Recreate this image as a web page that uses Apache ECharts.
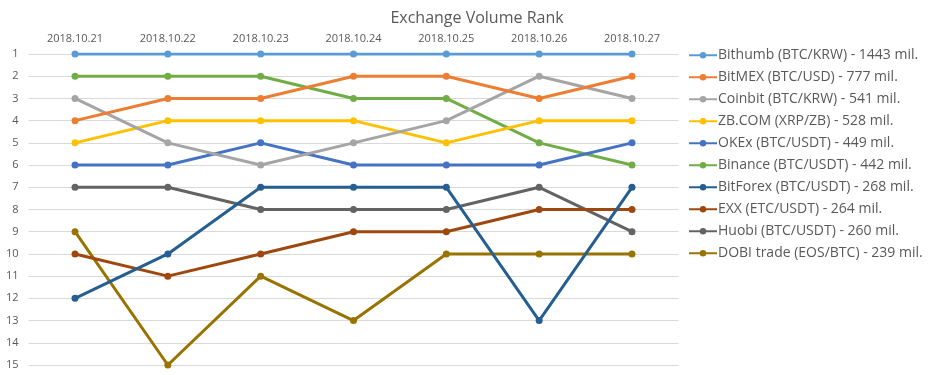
<!DOCTYPE html>
<html><head><meta charset="utf-8">
<script src="https://cdn.jsdelivr.net/npm/echarts@6/dist/echarts.min.js"></script>
<style>html,body{margin:0;padding:0;background:#fff}#c{width:935px;height:375px}</style>
</head><body><div id="c"></div>
<script>
const categories = ['2018.10.21','2018.10.22','2018.10.23','2018.10.24','2018.10.25','2018.10.26','2018.10.27'];
const seriesNames = [
  'Bithumb (BTC/KRW) - 1443 mil.',
  'BitMEX (BTC/USD) - 777 mil.',
  'Coinbit (BTC/KRW) - 541 mil.',
  'ZB.COM (XRP/ZB) - 528 mil.',
  'OKEx (BTC/USDT) - 449 mil.',
  'Binance (BTC/USDT) - 442 mil.',
  'BitForex (BTC/USDT) - 268 mil.',
  'EXX (ETC/USDT) - 264 mil.',
  'Huobi (BTC/USDT) - 260 mil.',
  'DOBI trade (EOS/BTC) - 239 mil.'
];
const bithumb  = [1,1,1,1,1,1,1];
const bitmex   = [4,3,3,2,2,3,2];
const coinbit  = [3,5,6,5,4,2,3];
const zbcom    = [5,4,4,4,5,4,4];
const okex     = [6,6,5,6,6,6,5];
const binance  = [2,2,2,3,3,5,6];
const bitforex = [12,10,7,7,7,13,7];
const exx      = [10,11,10,9,9,8,8];
const huobi    = [7,7,8,8,8,7,9];
const dobi     = [9,15,11,13,10,10,10];
const seriesValues = [bithumb,bitmex,coinbit,zbcom,okex,binance,bitforex,exx,huobi,dobi];
const colors = ['#5B9BD5','#ED7D31','#A5A5A5','#FFC000','#4472C4','#70AD47','#255E91','#9E480E','#636363','#997300'];

const chart = echarts.init(document.getElementById('c'));
chart.setOption({
  animation: false,
  color: colors,
  textStyle: {fontFamily: 'Open Sans, sans-serif'},
  title: {
    text: 'Exchange Volume Rank', left: 472, top: 5, textAlign: 'center',
    textStyle: {fontSize: 16, fontWeight: 'normal', color: '#595959', fontFamily: 'Open Sans, sans-serif'}
  },
  legend: {
    orient: 'vertical', left: 688, top: 48, padding: 0, itemWidth: 28, itemHeight: 8, itemGap: 7.5,
    data: seriesNames,
    textStyle: {fontSize: 14, lineHeight: 14.5, color: '#595959', padding: [0,0,0,-4]}
  },
  grid: {left: 28.6, right: 935-678.4, top: 54, bottom: 375-365},
  xAxis: {
    type: 'category', data: categories, position: 'top', boundaryGap: true,
    axisLine: {show: false}, axisTick: {show: false},
    axisLabel: {fontSize: 11, color: '#595959', margin: 10}
  },
  yAxis: {
    type: 'value', inverse: true, min: 1, max: 15, interval: 1,
    axisLine: {show: false}, axisTick: {show: false},
    axisLabel: {fontSize: 11, color: '#595959', margin: 10},
    splitLine: {lineStyle: {color: '#D9D9D9', width: 1}}
  },
  series: seriesValues.map((v, i) => ({
    name: seriesNames[i], type: 'line', data: v,
    symbol: 'circle', symbolSize: 7,
    lineStyle: {width: 3},
    z: 20 - i
  }))
});
</script></body></html>
